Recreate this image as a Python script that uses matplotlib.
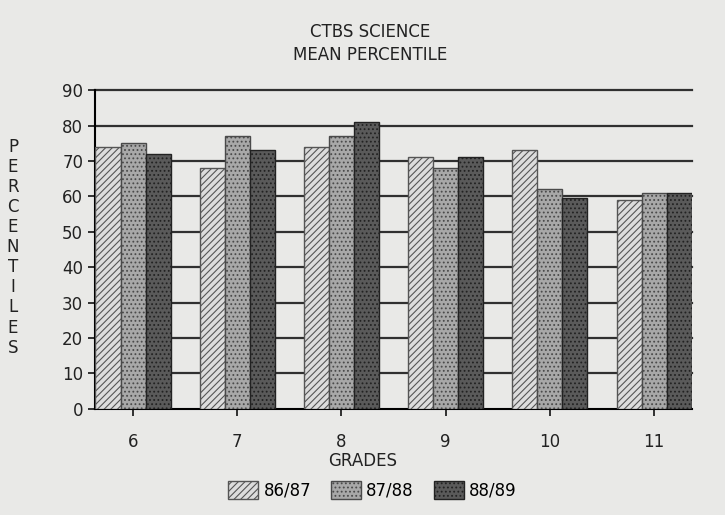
import numpy as np
import matplotlib
matplotlib.use('Agg')
import matplotlib.pyplot as plt

# datos
grades = ['6', '7', '8', '9', '10', '11']
s8687 = [74, 68, 74, 71, 73, 59]
s8788 = [75, 77, 77, 68, 62, 61]
s8889 = [72, 73, 81, 71, 59.5, 61]
series_labels = ['86/87', '87/88', '88/89']
yticks = list(range(0, 100, 10))

plt.rcParams['hatch.linewidth'] = 0.8
bg = '#e9e9e7'
fig = plt.figure(figsize=(7.25, 5.15), dpi=100, facecolor=bg)
ax = fig.add_axes([0.131, 0.206, 0.823, 0.619], facecolor=bg)

x = np.arange(len(grades))
w = 0.24
styles = [('#dcdcdc', '#555555', '/////'),
          ('#a8a8a8', '#4a4a4a', '....'),
          ('#5a5a5a', '#222222', '....')]
for i, vals in enumerate([s8687, s8788, s8889]):
    fc, ec, h = styles[i]
    ax.bar(x + (i - 1) * w, vals, w, facecolor=fc, edgecolor=ec, hatch=h,
           linewidth=1.0, label=series_labels[i], zorder=3)

# lineas horizontales
for yv in yticks[1:]:
    ax.axhline(yv, color='#303030', linewidth=1.6, zorder=1, clip_on=False)

ax.set_xlim(-0.365, 5.36)
ax.set_ylim(0, 90)
ax.set_yticks(yticks)
ax.set_xticks(x)
ax.set_xticklabels(grades)
for s in ['top', 'right']:
    ax.spines[s].set_visible(False)
ax.spines['left'].set_linewidth(1.5)
ax.spines['bottom'].set_linewidth(1.5)
ax.tick_params(axis='both', labelsize=12, colors='#222222', width=1.3, length=5)
ax.tick_params(axis='x', pad=12)

fig.text(0.51, 0.938, 'CTBS SCIENCE', ha='center', va='center', fontsize=12, color='#222222')
fig.text(0.51, 0.893, 'MEAN PERCENTILE', ha='center', va='center', fontsize=12, color='#222222')
fig.text(0.5, 0.105, 'GRADES', ha='center', va='center', fontsize=12, color='#222222')
fig.text(0.018, 0.52, '\n'.join('PERCENTILES'), ha='center', va='center',
         fontsize=12, color='#222222', linespacing=1.15)

ax.legend(loc='center', bbox_to_anchor=(0.465, -0.255), ncol=3, frameon=False,
          fontsize=12, handlelength=1.8, handleheight=1.3, columnspacing=1.2,
          handletextpad=0.3)

plt.savefig('out.png', dpi=100, facecolor=bg)
